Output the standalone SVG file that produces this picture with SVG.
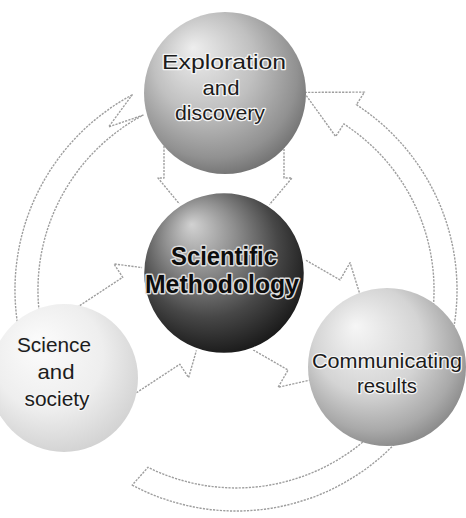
<svg xmlns="http://www.w3.org/2000/svg" width="466" height="518" viewBox="0 0 466 518">
  <defs>
    <radialGradient id="gExplore" cx="0.44" cy="0.4" r="0.62" fx="0.3" fy="0.22">
      <stop offset="0" stop-color="#eeeeee"/>
      <stop offset="0.5" stop-color="#c0c0c0"/>
      <stop offset="0.85" stop-color="#919191"/>
      <stop offset="1" stop-color="#727272"/>
    </radialGradient>
    <radialGradient id="gCore" cx="0.44" cy="0.4" r="0.62" fx="0.3" fy="0.2">
      <stop offset="0" stop-color="#d2d2d2"/>
      <stop offset="0.35" stop-color="#8f8f8f"/>
      <stop offset="0.7" stop-color="#474747"/>
      <stop offset="1" stop-color="#181818"/>
    </radialGradient>
    <radialGradient id="gComm" cx="0.44" cy="0.4" r="0.62" fx="0.3" fy="0.24">
      <stop offset="0" stop-color="#f6f6f6"/>
      <stop offset="0.55" stop-color="#d4d4d4"/>
      <stop offset="0.85" stop-color="#a9a9a9"/>
      <stop offset="1" stop-color="#8a8a8a"/>
    </radialGradient>
    <radialGradient id="gSociety" cx="0.44" cy="0.4" r="0.62" fx="0.32" fy="0.26">
      <stop offset="0" stop-color="#fcfcfc"/>
      <stop offset="0.6" stop-color="#eeeeee"/>
      <stop offset="1" stop-color="#d2d2d2"/>
    </radialGradient>
  </defs>
  <style>
    .arrow { fill: #ffffff; stroke: #9e9e9e; stroke-width: 1.4; stroke-linejoin: round; stroke-dasharray: 2.2 1.2; }
    .lbl { font-family: "Liberation Sans", Arial, sans-serif; font-size: 21px; fill: #1c1c1c; text-anchor: middle;
           stroke: #f4f4f4; stroke-width: 2.5; paint-order: stroke; stroke-linejoin: round; }
    .core { font-size: 25px; font-weight: bold; fill: #0d0d0d; stroke: #dcdcdc; stroke-width: 3; }
  </style>

  <rect width="466" height="518" fill="#ffffff"/>

  <g id="connectors">
    <!-- ring of three curved block arrows (centre 236,290) -->
    <path class="arrow" d="M449.5,347.2 A221,221 0 0 0 356.4,104.7 L364.5,92.1 L304,92.4 L335.7,136.5 L343.8,123.9 A198,198 0 0 1 427.3,341.2 Z"/>
    <path class="arrow" d="M132.2,94.9 A221,221 0 0 0 22.5,347.2 L8,351.1 L53.2,391.3 L59.2,337.4 L44.7,341.2 A198,198 0 0 1 143,115.2 L108.6,126.9 Z"/>
    <path class="arrow" d="M132.2,485.1 A221,221 0 0 0 410.2,426.1 L422,435.3 L423.8,381.6 L380.2,402.7 L392,411.9 A198,198 0 0 1 148,467.3 Z"/>

    <!-- wide arrows between the core sphere and each outer sphere -->
    <g transform="translate(224,273) rotate(-90)">
      <path class="arrow" d="M15,0 L95,-66 L95,-60 L180,-60 L180,60 L95,60 L95,68 Z"/>
    </g>
    <g transform="translate(224,273) rotate(30)">
      <path class="arrow" d="M0,-52 L104,-52 L104,-72 L182,0 L104,72 L104,52 L0,52 Z"/>
    </g>
    <g transform="translate(224,273) rotate(146.7)">
      <path class="arrow" d="M8,0 L87,-68 L87,-52 L191,-52 L191,52 L87,52 L87,68 Z"/>
    </g>
  </g>

  <g id="node-exploration">
    <circle cx="225" cy="93" r="81" fill="url(#gExplore)"/>
    <text class="lbl" x="224" y="69" textLength="124" lengthAdjust="spacingAndGlyphs">Exploration</text>
    <text class="lbl" x="221" y="95" textLength="37" lengthAdjust="spacingAndGlyphs">and</text>
    <text class="lbl" x="220" y="120" textLength="90" lengthAdjust="spacingAndGlyphs">discovery</text>
  </g>

  <g id="node-society">
    <circle cx="64" cy="378" r="74" fill="url(#gSociety)"/>
    <text class="lbl" x="54" y="352" textLength="74" lengthAdjust="spacingAndGlyphs">Science</text>
    <text class="lbl" x="56" y="379" textLength="37" lengthAdjust="spacingAndGlyphs">and</text>
    <text class="lbl" x="57" y="406" textLength="65" lengthAdjust="spacingAndGlyphs">society</text>
  </g>

  <g id="node-communicating">
    <circle cx="387" cy="367" r="79" fill="url(#gComm)"/>
    <text class="lbl" x="387" y="368" textLength="150" lengthAdjust="spacingAndGlyphs">Communicating</text>
    <text class="lbl" x="387" y="393" textLength="60" lengthAdjust="spacingAndGlyphs">results</text>
  </g>

  <g id="node-methodology">
    <circle cx="224" cy="273" r="81" fill="url(#gCore)" stroke="#ffffff" stroke-width="2.5"/>
    <text class="lbl core" x="224" y="265" textLength="106" lengthAdjust="spacingAndGlyphs">Scientific</text>
    <text class="lbl core" x="222" y="293" textLength="154" lengthAdjust="spacingAndGlyphs">Methodology</text>
  </g>
</svg>
